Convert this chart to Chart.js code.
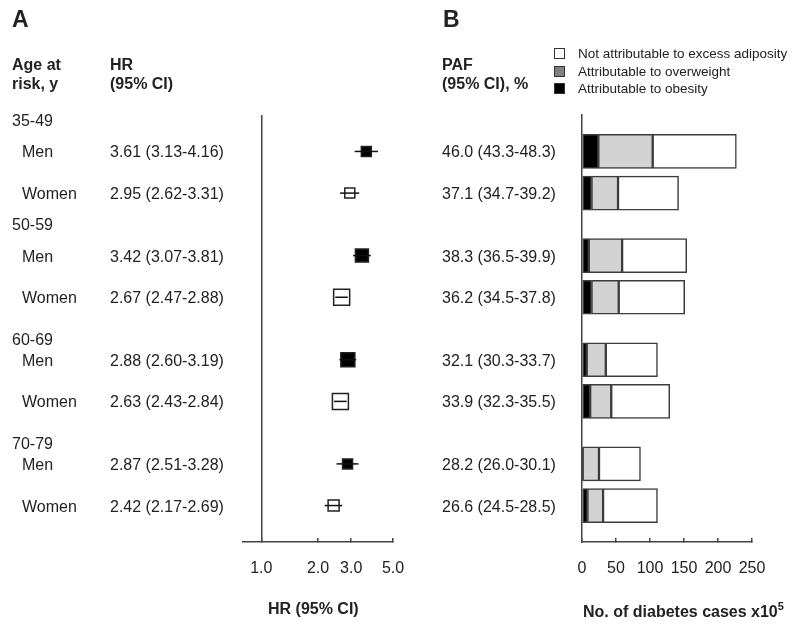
<!DOCTYPE html>
<html lang="en">
<head>
  <meta charset="UTF-8">
  <title>HR and PAF of diabetes by age at risk</title>
  <script src="https://cdn.jsdelivr.net/npm/chart.js@4"></script>
  <style>
    body { margin: 0; background: #fff; }
    #wrap { position: relative; width: 800px; height: 627px; font-family: "Liberation Sans", Arial, sans-serif; color: #222; overflow: hidden; }
    #wrap canvas { position: absolute; left: 0; top: 0; }
    .t { position: absolute; font-size: 16px; line-height: 19px; white-space: nowrap; transform: translateY(-50%); }
    .panel { position: absolute; top: 6px; font-size: 23px; font-weight: bold; }
    .hdr { position: absolute; top: 55px; font-size: 16px; line-height: 19px; font-weight: bold; }
    .legend { position: absolute; left: 554px; top: 45px; font-size: 13.5px; line-height: 17.5px; white-space: nowrap; }
    .legend span { display: inline-block; width: 9px; height: 9px; border: 1px solid #333; margin-right: 13px; vertical-align: -1px; }
    .axt { position: absolute; font-size: 16px; line-height: 19px; font-weight: bold; white-space: nowrap; }
    .axt sup { font-size: 11px; line-height: 0; vertical-align: 7px; }
  </style>
</head>
<body>
  <div id="wrap">
    <canvas id="hrChart" width="800" height="627"></canvas>
    <canvas id="pafChart" width="800" height="627"></canvas>

    <div class="panel" style="left:12px">A</div>
    <div class="panel" style="left:443px">B</div>
    <div class="hdr" style="left:12px">Age at<br>risk, y</div>
    <div class="hdr" style="left:110px">HR<br>(95% CI)</div>
    <div class="hdr" style="left:442px">PAF<br>(95% CI), %</div>

    <div class="legend">
      <div><span style="background:#fff"></span>Not attributable to excess adiposity</div>
      <div><span style="background:#808080"></span>Attributable to overweight</div>
      <div><span style="background:#000"></span>Attributable to obesity</div>
    </div>

    <div class="axt" style="left:268px; top:599px">HR (95% CI)</div>
    <div class="axt" style="left:583px; top:602px">No. of diabetes cases x10<sup>5</sup></div>
  </div>

  <script>
    // rows of both panels, blanks are spacer rows
    const rowLabels = [
      '35-49', '', '', 'Men', '', '', '', 'Women', '', '',
      '50-59', '', '', 'Men', '', '', '', 'Women', '', '', '',
      '60-69', '', 'Men', '', '', '', 'Women', '', '', '',
      '70-79', '', 'Men', '', '', '', 'Women', '', '', ''
    ];

    // subgroups in order: 35-49 men, 35-49 women, 50-59 men, ...
    const hr     = [3.61, 2.95, 3.42, 2.67, 2.88, 2.63, 2.87, 2.42];
    const hrLow  = [3.13, 2.62, 3.07, 2.47, 2.60, 2.43, 2.51, 2.17];
    const hrHigh = [4.16, 3.31, 3.81, 2.88, 3.19, 2.84, 3.28, 2.69];
    const hrTicks = [1, 2, 3, 5];

    const paf     = [46.0, 37.1, 38.3, 36.2, 32.1, 33.9, 28.2, 26.6];
    const pafLow  = [43.3, 34.7, 36.5, 34.5, 30.3, 32.3, 26.0, 24.5];
    const pafHigh = [48.3, 39.2, 39.9, 37.8, 33.7, 35.5, 30.1, 28.5];

    // cases x10^5
    const obese      = [24, 14, 10, 14, 7, 12, 1, 8];
    const overweight = [80, 39, 49, 40, 28, 31, 24, 23];
    const notAttr    = [123, 89, 95, 97, 76, 86, 61, 80];

    const markerSide = [10, 10, 13, 16, 14, 16, 10, 11];

    const subRows = [];
    rowLabels.forEach((l, i) => { if (l === 'Men' || l === 'Women') subRows.push(i); });
    const pad = arr => rowLabels.map((l, i) => {
      const k = subRows.indexOf(i);
      return k < 0 ? null : arr[k];
    });

    Chart.defaults.font.family = '"Liberation Sans", Arial, sans-serif';
    Chart.defaults.font.size = 16;
    Chart.defaults.color = '#222';

    const ciBars = {
      id: 'ciBars',
      afterDatasetsDraw(chart) {
        const { ctx, scales: { x, y } } = chart;
        ctx.save();
        ctx.strokeStyle = '#111';
        ctx.lineWidth = 1.5;
        subRows.forEach((row, k) => {
          const py = y.getPixelForValue(row);
          ctx.beginPath();
          ctx.moveTo(x.getPixelForValue(hrLow[k]), py);
          ctx.lineTo(x.getPixelForValue(hrHigh[k]), py);
          ctx.stroke();
        });
        ctx.restore();
      }
    };

    const chartA = new Chart(document.getElementById('hrChart'), {
      type: 'line',
      data: {
        labels: rowLabels,
        datasets: [{
          data: pad(hr),
          showLine: false,
          pointStyle: 'rect',
          pointRadius: c => (markerSide[subRows.indexOf(c.dataIndex)] || 0) / Math.SQRT2,
          pointBackgroundColor: c => rowLabels[c.dataIndex] === 'Men' ? '#000' : '#fff',
          pointBorderColor: '#222',
          pointBorderWidth: 1.5
        }]
      },
      options: {
        indexAxis: 'y',
        responsive: false,
        animation: false,
        events: [],
        layout: { padding: { left: 243, right: 407, top: 115, bottom: 0 } },
        plugins: { legend: { display: false }, tooltip: { enabled: false } },
        scales: {
          y: { type: 'category', display: false, offset: true },
          x: {
            type: 'logarithmic', min: 0.8, max: 5,
            afterBuildTicks: s => { s.ticks = hrTicks.map(v => ({ value: v })); },
            afterFit: s => { s.height = 85; },
            ticks: { callback: v => Number(v).toFixed(1), padding: 21, maxRotation: 0, autoSkip: false },
            grid: {
              color: c => c.tick && c.tick.value === 1 ? '#444' : 'rgba(0,0,0,0)',
              tickColor: '#444', tickLength: -4, lineWidth: 1.5
            },
            border: { color: '#444', width: 1.5 }
          }
        }
      },
      plugins: [ciBars]
    });

    const chartB = new Chart(document.getElementById('pafChart'), {
      type: 'bar',
      data: {
        labels: rowLabels,
        datasets: [
          { label: 'Attributable to obesity', data: pad(obese), backgroundColor: '#000' },
          { label: 'Attributable to overweight', data: pad(overweight), backgroundColor: '#d3d3d3' },
          { label: 'Not attributable to excess adiposity', data: pad(notAttr), backgroundColor: '#fff' }
        ]
      },
      options: {
        indexAxis: 'y',
        responsive: false,
        animation: false,
        events: [],
        datasets: { bar: { barThickness: 34, borderColor: '#3c3c3c', borderWidth: 1.5, borderSkipped: false } },
        layout: { padding: { left: 582, right: 48, top: 115, bottom: 0 } },
        plugins: { legend: { display: false }, tooltip: { enabled: false } },
        scales: {
          y: {
            stacked: true, offset: true,
            ticks: { display: false },
            grid: { display: false },
            border: { display: true, color: '#444', width: 1.5 },
            afterFit: s => { s.width = 0; }
          },
          x: {
            stacked: true, min: 0, max: 250,
            afterFit: s => { s.height = 85; },
            ticks: { stepSize: 50, padding: 21, maxRotation: 0, autoSkip: false },
            grid: { drawOnChartArea: false, tickColor: '#444', tickLength: -4, lineWidth: 1.5 },
            border: { color: '#444', width: 1.5 }
          }
        }
      }
    });

    // row texts, placed on the chart's own row positions
    const wrap = document.getElementById('wrap');
    function addText(txt, left, top) {
      const d = document.createElement('div');
      d.className = 't';
      d.textContent = txt;
      d.style.left = left + 'px';
      d.style.top = top + 'px';
      wrap.appendChild(d);
    }
    rowLabels.forEach((l, i) => {
      if (!l) return;
      const py = chartA.scales.y.getPixelForValue(i);
      const k = subRows.indexOf(i);
      if (k < 0) { addText(l, 12, py); return; }
      addText(l, 22, py);
      addText(`${hr[k].toFixed(2)} (${hrLow[k].toFixed(2)}-${hrHigh[k].toFixed(2)})`, 110, py);
      addText(`${paf[k].toFixed(1)} (${pafLow[k].toFixed(1)}-${pafHigh[k].toFixed(1)})`, 442, py);
    });
  </script>
</body>
</html>
